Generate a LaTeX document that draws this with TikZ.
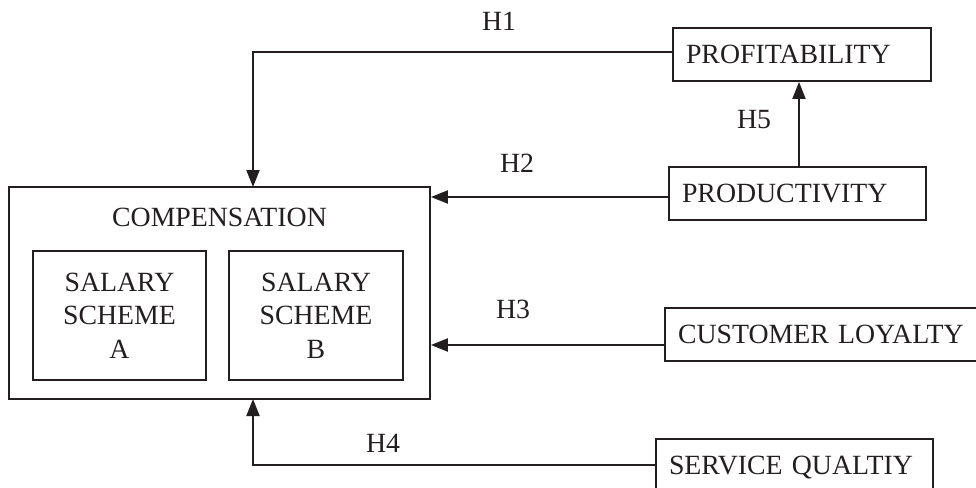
\documentclass[tikz,border=0pt]{standalone}
\usepackage{fontspec}
\setmainfont{Liberation Serif}
\usetikzlibrary{arrows.meta,calc}
\definecolor{ink}{RGB}{35,31,32}
\begin{document}
\begin{tikzpicture}[x=1pt,y=-1pt,
  every node/.style={font=\fontsize{27.8}{33.5}\selectfont, text=ink},
  box/.style={draw=ink, line width=1.8pt, inner xsep=13pt, inner ysep=0pt, minimum height=53pt, align=left, text depth=0pt},
  inbox/.style={draw=ink, line width=1.8pt, align=center, minimum height=129pt},
  outbox/.style={draw=ink, line width=1.8pt, minimum width=421pt, minimum height=212pt},
  arr/.style={draw=ink, line width=2pt, -{Triangle[length=17pt,width=13pt]}},
  hlabel/.style={inner sep=0pt}
]
\clip (0,0) rectangle (976,487);
\fill[white] (0,0) rectangle (976,487);

% compensation block
\node[outbox] (comp) at (219.5,293) {};
\node (comptitle) at (219.5,217) {COMPENSATION};
\node[inbox, minimum width=173pt] (salA) at (119.5,315.5) {SALARY\\SCHEME\\A};
\node[inbox, minimum width=174pt] (salB) at (316,315.5) {SALARY\\SCHEME\\B};

% right boxes
\node[box, text width=232pt] (prof) at (802,54.5) {PROFITABILITY};
\node[box, text width=231pt] (prod) at (797.5,193.5) {PRODUCTIVITY};
\node[box, text width=294pt] (cust) at (825,334.5) {CUSTOMER LOYALTY};
\node[box, text width=251pt] (serv) at (794.5,465.5) {SERVICE QUALTIY};

% connectors
\coordinate (h1end) at (253,187);
\coordinate (h4end) at (253,399);
\draw[arr] ([yshift=2.5pt]prof.west) -| (h1end);
\draw[arr] ([yshift=-3.5pt]prod.west) -- ([yshift=-3.5pt]prod.west -| comp.east);
\draw[arr] ([yshift=-10.5pt]cust.west) -- ([yshift=-10.5pt]cust.west -| comp.east);
\draw[arr] ([yshift=0.5pt]serv.west) -| (h4end);
\draw[arr] ([xshift=1.5pt]prod.north) -- ([xshift=1.5pt]prod.north |- prof.south);

% labels
\node[hlabel] (lh1) at (499,21) {H1};
\node[hlabel] (lh2) at (517,163.5) {H2};
\node[hlabel] (lh3) at (513,309) {H3};
\node[hlabel] (lh4) at (383,443) {H4};
\node[hlabel] (lh5) at (754,120) {H5};
\end{tikzpicture}
\end{document}
